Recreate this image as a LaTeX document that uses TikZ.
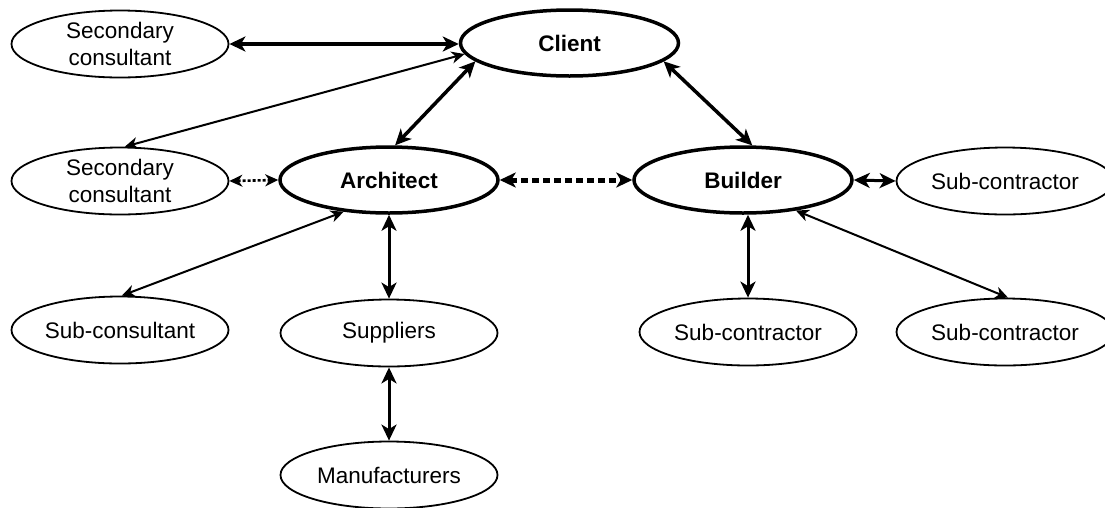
\documentclass[tikz,border=0pt]{standalone}
\usepackage{fontspec}
\setmainfont{Liberation Sans}
\usetikzlibrary{shapes.geometric,arrows.meta}
\tikzset{
  thinell/.style={ellipse, draw, line width=1.8pt, minimum width=217pt, minimum height=67pt, inner sep=0pt, align=center, font=\fontsize{22.5}{27}\selectfont},
  thickell/.style={ellipse, draw, line width=3.5pt, minimum width=218pt, minimum height=66pt, inner sep=0pt, align=center, font=\fontsize{22.5}{27}\selectfont\bfseries},
  bigtip/.tip={Stealth[length=16pt, width=15pt, inset=4.5pt]},
  smalltip/.tip={Stealth[length=13pt, width=12pt, inset=4pt]},
  thickarr/.style={bigtip-bigtip, line width=3.5pt},
  medarr/.style={bigtip-bigtip, line width=3pt},
  thinarr/.style={smalltip-smalltip, line width=2pt},
  dottedarr/.style={smalltip-smalltip, line width=2.6pt, dash pattern=on 3pt off 2pt},
  dashedarr/.style={bigtip-bigtip, line width=5pt, dash pattern=on 7pt off 4pt},
}
\begin{document}
\begin{tikzpicture}[x=1pt, y=-1pt]
\useasboundingbox (0,0) rectangle (1105,507);
\begin{scope}
\clip (0,0) rectangle (1105,507);
\node[thinell] (sec1) at (120,44) {Secondary\\consultant};
\node[thickell] (client) at (569.5,43) {Client};
\node[thinell] (sec2) at (120,181) {Secondary\\consultant};
\node[thickell] (arch) at (389,180) {Architect};
\node[thickell] (builder) at (743,180) {Builder};
\node[thinell] (subr1) at (1005,181) {Sub-contractor};
\node[thinell] (subcons) at (120,330) {Sub-consultant};
\node[thinell] (suppliers) at (389,333) {Suppliers};
\node[thinell] (submid) at (748,332) {Sub-contractor};
\node[thinell] (subr2) at (1005,332) {Sub-contractor};
\node[thinell] (manuf) at (389,475) {Manufacturers};

\draw[thickarr] (sec1.east) -- (sec1.east -| client.west);
\draw[thinarr] (sec2.82) -- (client.186);
\draw[thickarr] (arch.80) -- (client.191);
\draw[thickarr] (client.349) -- (builder.75);
\draw[dottedarr] (sec2.east) -- (arch.west);
\draw[dashedarr] (arch.east) -- (builder.west);
\draw[medarr] (builder.east) -- (subr1.west);
\draw[thinarr] (arch.215) -- (subcons.87);
\draw[medarr] (arch.south) -- (suppliers.north);
\draw[medarr] (suppliers.south) -- (manuf.north);
\draw[medarr] (submid.north |- builder.south) -- (submid.north);
\draw[thinarr] (builder.-30) -- (subr2.85);
\end{scope}
\end{tikzpicture}
\end{document}
